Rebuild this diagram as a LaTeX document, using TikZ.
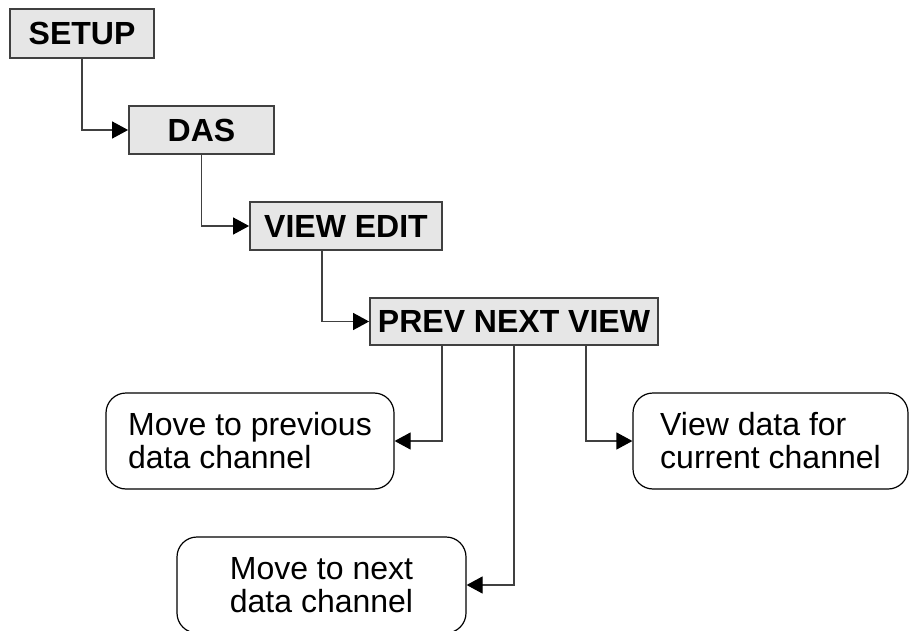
\documentclass[tikz,border=0pt]{standalone}
\usepackage{fontspec}
\setmainfont{Liberation Sans}
\usetikzlibrary{arrows.meta}
\definecolor{boxfill}{HTML}{E6E6E6}
\definecolor{boxline}{HTML}{404040}
\definecolor{conn}{HTML}{404040}
\begin{document}
\begin{tikzpicture}[x=1pt,y=-1pt,
  menubox/.style={draw=boxline,line width=1.8pt,fill=boxfill,inner sep=0pt,
    font=\fontsize{32}{33}\selectfont\bfseries},
  infobox/.style={draw=black,line width=1.2pt,rounded corners=20pt,inner sep=0pt,
    minimum width=#1,minimum height=96pt,align=left,
    font=\fontsize{32}{33}\selectfont},
  link/.style={draw=conn,line width=1.2pt,-{Triangle[length=16pt,width=17pt,color=black]}}]
\useasboundingbox (0,0) rectangle (910,631);
\node[menubox,minimum width=144pt,minimum height=49pt] (setup) at (82,33.5) {SETUP};
\node[menubox,minimum width=145pt,minimum height=48pt] (das) at (201.5,130) {DAS};
\node[menubox,minimum width=192pt,minimum height=48pt] (ve) at (346,226) {VIEW EDIT};
\node[menubox,minimum width=288pt,minimum height=47pt] (pnv) at (514,321.5) {PREV NEXT VIEW};
\node[infobox=288pt] (prev) at (250,441) {Move to previous\\data channel};
\node[infobox=275pt] (view) at (770.5,441) {View data for\\current channel};
\node[infobox=289pt] (next) at (321.5,585) {Move to next\\data channel};
\draw[link] (setup.south) |- (das.west);
\draw[link] (das.south) |- (ve.west);
\draw[link] ([xshift=-24pt]ve.south) |- (pnv.west);
\draw[link] ([xshift=-72pt]pnv.south) |- (prev.east);
\draw[link] (pnv.south) |- (next.east);
\draw[link] ([xshift=72pt]pnv.south) |- (view.west);
\end{tikzpicture}
\end{document}
